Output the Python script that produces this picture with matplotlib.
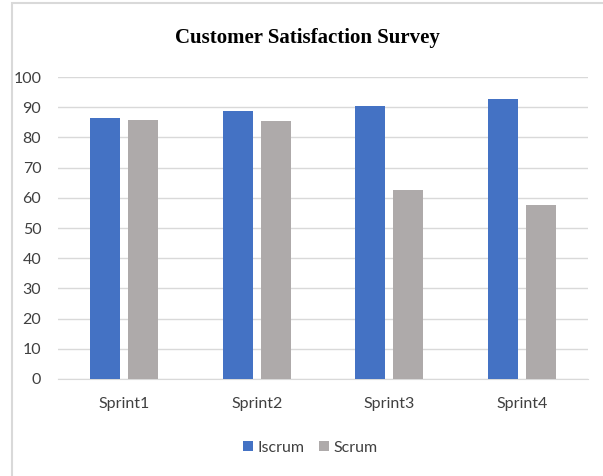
import numpy as np
import matplotlib.pyplot as plt
from matplotlib.patches import Rectangle

sprints = ["Sprint1", "Sprint2", "Sprint3", "Sprint4"]
iscrum = [86.3, 88.7, 90.5, 92.6]
scrum = [85.8, 85.5, 62.6, 57.8]

plt.rcParams['font.family'] = ['Lato', 'DejaVu Sans']

fig = plt.figure(figsize=(6.03, 4.76), dpi=100)
ax = fig.add_axes([0.0962, 0.2038, 0.879, 0.6342])

# outer chart border (only left and top are visible in the crop)
fig.patches.append(Rectangle((12 / 603, -0.1), 1.2, 1 - 3 / 476 + 0.1,
                             transform=fig.transFigure, fill=False,
                             edgecolor="#d9d9d9", linewidth=1.5))

x = np.arange(len(sprints))
w = 0.227
ax.bar(x - 0.144, iscrum, w, color="#4472c4", label="Iscrum", zorder=3)
ax.bar(x + 0.144, scrum, w, color="#aeaaaa", label="Scrum", zorder=3)

ax.set_xlim(-0.5, 3.5)
ax.set_ylim(0, 100)
ax.set_yticks(range(0, 101, 10))
ax.set_xticks(x)
ax.set_xticklabels(sprints)
ax.grid(axis="y", color="#d9d9d9", linewidth=1, zorder=0)
for s in ["top", "right", "left"]:
    ax.spines[s].set_visible(False)
ax.spines["bottom"].set_color("#d9d9d9")
ax.tick_params(axis="both", length=0, labelsize=11.5, colors="#404040")
ax.tick_params(axis="x", pad=13)
ax.tick_params(axis="y", pad=12)

fig.text(0.51, 1 - 38 / 476, "Customer Satisfaction Survey", ha="center", va="center",
         family="Liberation Serif", fontweight="bold", fontsize=15)

fig.legend(loc="center", bbox_to_anchor=(0.515, 1 - 448 / 476), ncol=2, frameon=False,
           fontsize=11.5, handlelength=0.6, handleheight=0.6, handletextpad=0.3,
           columnspacing=0.9, labelcolor="#404040")

fig.savefig("out.png", dpi=100)
